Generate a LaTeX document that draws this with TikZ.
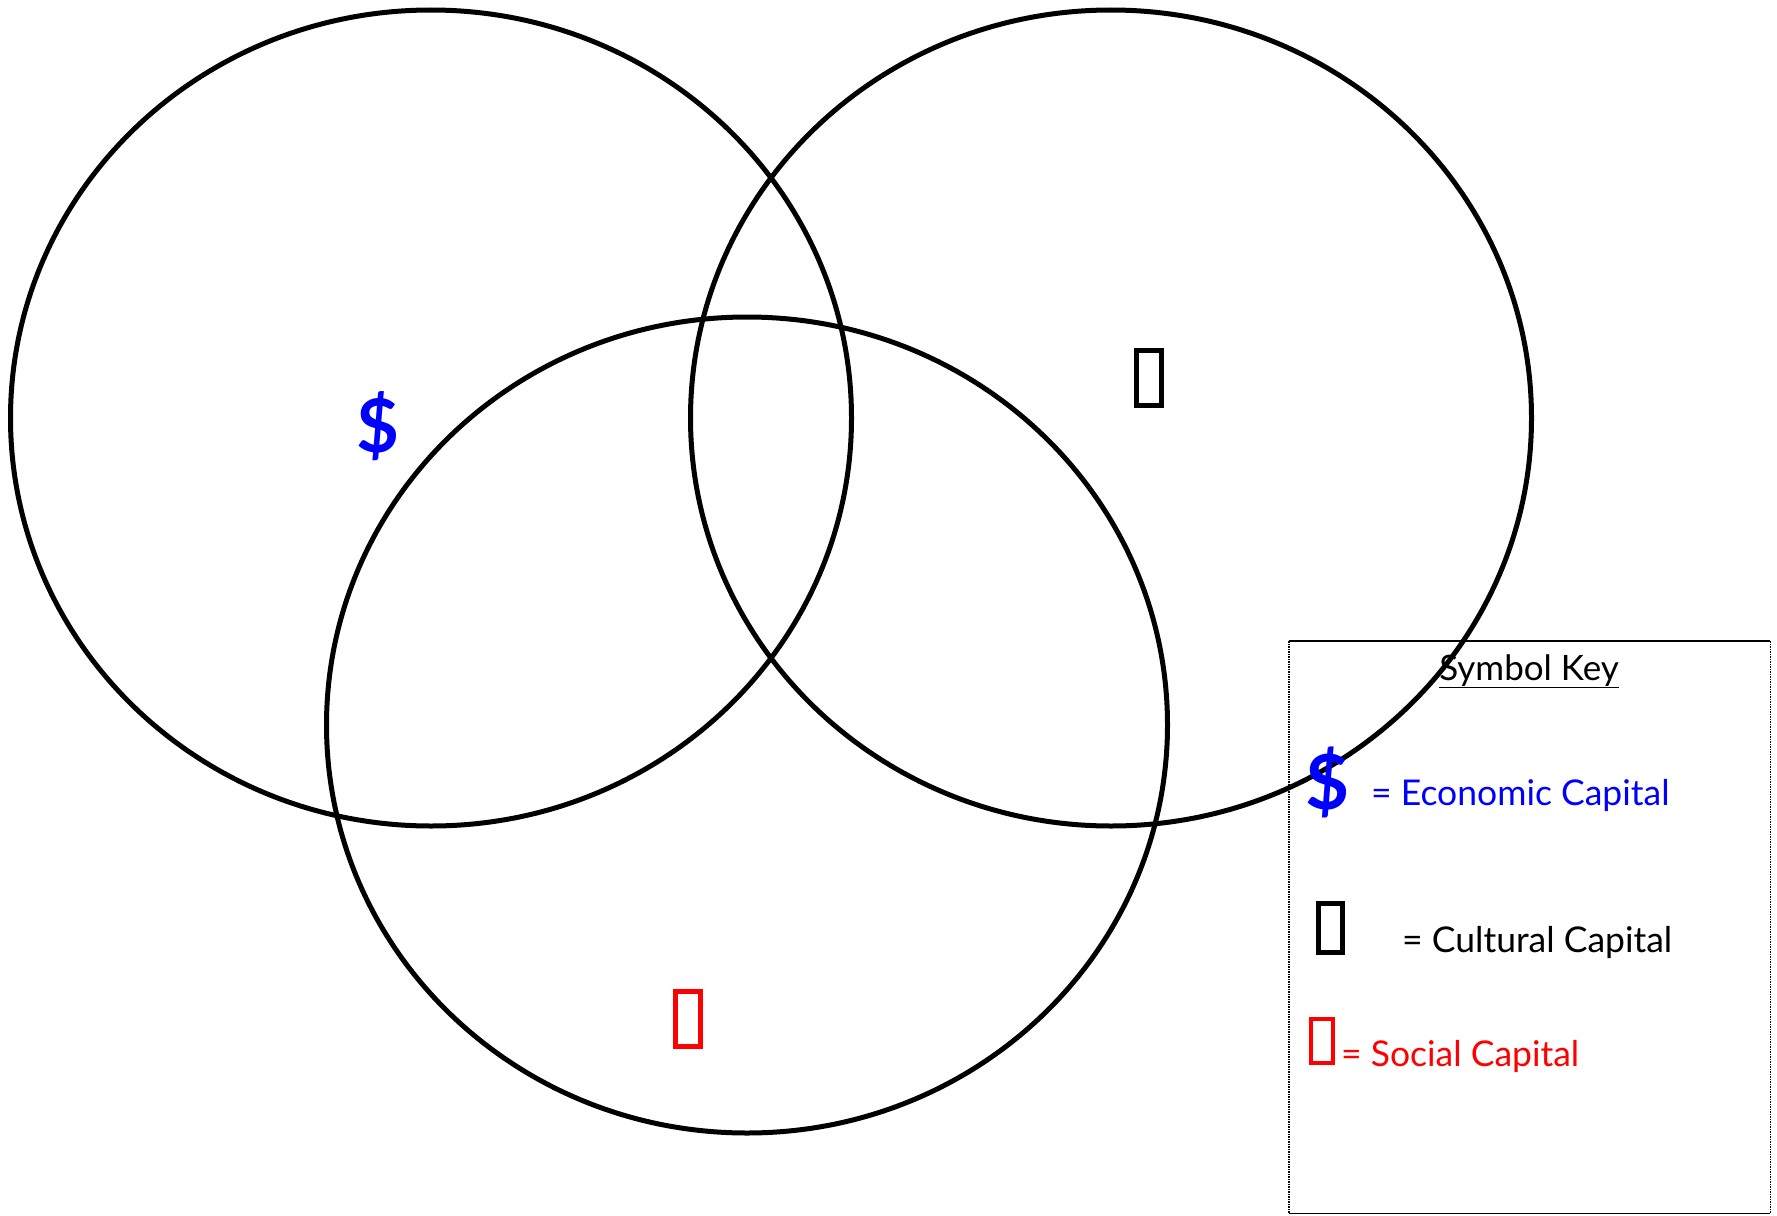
\documentclass[tikz,border=0pt]{standalone}
\usepackage{fontspec}
\setmainfont{Lato}
\usetikzlibrary{shapes.geometric, positioning}

\tikzset{
  capset/.style={draw=black, line width=5pt, ellipse, minimum width=841pt, minimum height=816pt, inner sep=0pt},
  glyphbox/.style={draw=black, line width=5pt, minimum width=25pt, minimum height=55pt, inner sep=0pt},
  keytext/.style={font=\fontsize{35.5}{42}\selectfont, anchor=base west, inner sep=0pt},
  dollar/.style={font=\fontsize{74}{80}\selectfont\bfseries, text=blue, inner sep=0pt},
}

\begin{document}
\begin{tikzpicture}[x=1pt, y=-1pt]
\useasboundingbox (0,0) rectangle (1777,1215);

% Symbol key frame
\node[minimum width=481pt, minimum height=572pt, anchor=north west, inner sep=0pt] (key) at (1289,641) {};
\draw[line width=1.5pt] (key.north west) -- (key.north east);
\draw[line width=1.5pt] (key.south west) -- (key.south east);
\draw[line width=1.5pt, densely dotted] (key.north west) -- (key.south west);
\draw[line width=1.5pt, densely dotted] (key.north east) -- (key.south east);

% The three capitals
\node[capset] (econ) at (431,418) {};
\node[capset] (cult) at (1111,418) {};
\node[capset] (soc) at (747,725) {};

\node[dollar] (econsym) at (378,426) {\$};
\node[glyphbox] (cultsym) at (1149,378) {};
\node[glyphbox, draw=red] (socsym) at (688,1019) {};

% Key entries
\node[font=\fontsize{35}{42}\selectfont, anchor=base, inner sep=0pt] (keytitle) at (1529,680) {\underline{Symbol Key}};
\node[dollar, font=\fontsize{76}{80}\selectfont\bfseries] (econkey) at (1328,782) {\$};
\node[keytext, text=blue] (econlabel) at (1371,805) {= Economic Capital};
\node[glyphbox, minimum width=24pt, minimum height=49pt] (cultkey) at (1330,928) {};
\node[keytext] (cultlabel) at (1402,952) {= Cultural Capital};
\node[glyphbox, draw=red, line width=4pt, minimum width=22pt, minimum height=44pt] (sockey) at (1322,1041) {};
\node[keytext, text=red] (soclabel) at (1341,1066) {= Social Capital};
\end{tikzpicture}
\end{document}
